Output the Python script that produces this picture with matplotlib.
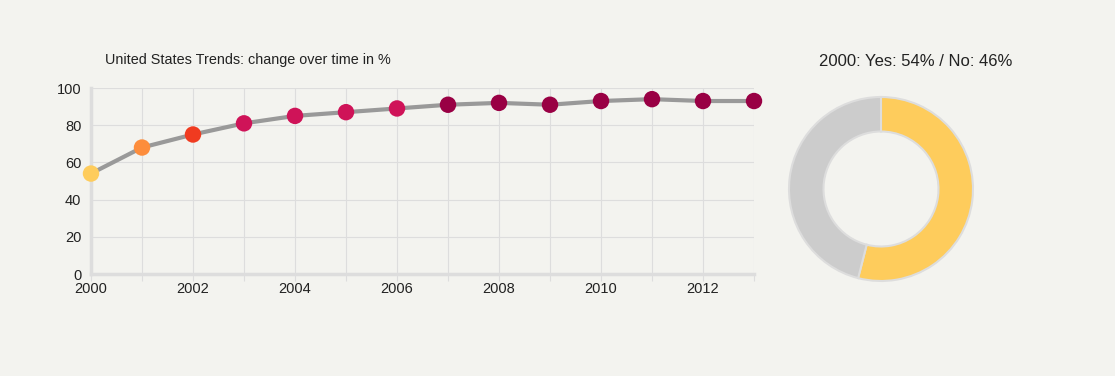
import numpy as np
import matplotlib
matplotlib.use('Agg')
import matplotlib.pyplot as plt

plt.rcParams['font.family'] = ['Liberation Sans', 'DejaVu Sans']

years = [2000, 2001, 2002, 2003, 2004, 2005, 2006, 2007, 2008, 2009, 2010, 2011, 2012, 2013]
values = [54, 68, 75, 81, 85, 87, 89, 91, 92, 91, 93, 94, 93, 93]
point_colors = ['#fecc5c', '#fd8d3c', '#f03b20', '#cf1358', '#cf1358', '#cf1358', '#cf1358',
                '#990044', '#990044', '#990044', '#990044', '#990044', '#990044', '#990044']
donut_labels = ['Yes', 'No']
donut_values = [54, 46]
donut_colors = ['#fecc5c', '#cccccc']

bg = '#f3f3ef'
fig = plt.figure(figsize=(11.15, 3.76), dpi=100, facecolor=bg)

# line chart
ax = fig.add_axes([91/1115, 1-274/376, (754-91)/1115, (274-88)/376], facecolor=bg)
ax.plot(years, values, color='#999999', lw=3, zorder=2, clip_on=False)
ax.scatter(years, values, c=point_colors, s=140, zorder=3, clip_on=False, linewidths=0)
ax.set_xlim(2000, 2013)
ax.set_ylim(0, 100)
ax.set_xticks(years)
ax.set_xticklabels([str(y) if y % 2 == 0 else '' for y in years])
ax.set_yticks([0, 20, 40, 60, 80, 100])
ax.grid(True, color='#dddddd', lw=0.8, zorder=0)
for s in ['top', 'right']:
    ax.spines[s].set_visible(False)
for s in ['left', 'bottom']:
    ax.spines[s].set_color('#dddddd')
    ax.spines[s].set_linewidth(2.5)
ax.tick_params(axis='x', length=5, color='#dddddd', labelsize=10.5, labelcolor='#222222', pad=1)
ax.tick_params(axis='y', length=0, labelsize=10.5, labelcolor='#222222', pad=7)
fig.text(105/1115, 1-60/376, 'United States Trends: change over time in %',
         fontsize=10.4, color='#222222', va='center', ha='left')

# donut
r = 92
ax2 = fig.add_axes([(881-r)/1115, 1-(189+r)/376, 2*r/1115, 2*r/376], facecolor=bg)
ax2.pie(donut_values, colors=donut_colors, startangle=90, counterclock=False,
        radius=1, wedgeprops=dict(width=0.375, edgecolor='#dddddd', linewidth=1.5))
ax2.set_xlim(-1, 1)
ax2.set_ylim(-1, 1)
ax2.set_aspect('equal')
ax2.axis('off')
fig.text(916/1115, 1-62/376, '2000: %s: %d%% / %s: %d%%' % (donut_labels[0], donut_values[0], donut_labels[1], donut_values[1]),
         fontsize=12, color='#222222', va='center', ha='center')

fig.savefig('out.png', dpi=100, facecolor=bg)
